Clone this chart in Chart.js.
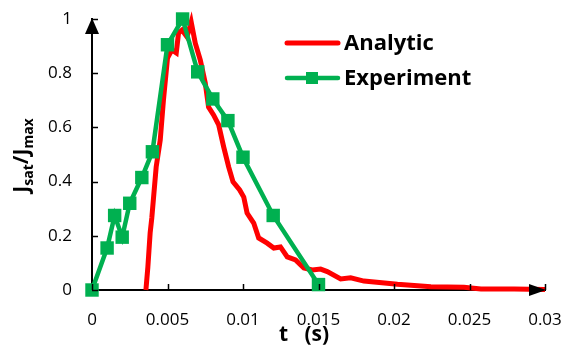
<!DOCTYPE html>
<html>
<head>
<meta charset="utf-8">
<script src="https://cdn.jsdelivr.net/npm/chart.js@4/dist/chart.umd.min.js"></script>
<style>
  body { margin: 0; background: #fff; }
  canvas { display: block; }
</style>
</head>
<body>
<canvas id="chart" width="564" height="347"></canvas>
<script>
// -------------------------------
// Data
// -------------------------------
const analyticT = [0.00357, 0.0037, 0.00385, 0.00396, 0.00425, 0.00452, 0.00473, 0.0050, 0.00529, 0.00558,
  0.00573, 0.00596, 0.00629, 0.00657, 0.00684, 0.00717, 0.0075, 0.00772, 0.00805, 0.00839,
  0.00872, 0.00905, 0.00934, 0.00978, 0.01005, 0.01027, 0.01071, 0.01104, 0.0116, 0.01204,
  0.01248, 0.01293, 0.01348, 0.01403, 0.01459, 0.01514, 0.01558, 0.01647, 0.01713, 0.01801,
  0.02023, 0.02244, 0.02463, 0.02576, 0.02796, 0.0300];
const analyticJ = [0, 0.085, 0.21, 0.266, 0.454, 0.554, 0.70, 0.856, 0.886, 0.875,
  0.948, 0.959, 0.934, 0.989, 0.911, 0.849, 0.764, 0.675, 0.646, 0.609,
  0.528, 0.454, 0.399, 0.369, 0.343, 0.284, 0.247, 0.192, 0.173, 0.155,
  0.159, 0.122, 0.111, 0.081, 0.074, 0.077, 0.068, 0.041, 0.045, 0.033,
  0.021, 0.012, 0.010, 0.004, 0.004, 0.002];

const experimentT = [0, 0.001, 0.0015, 0.002, 0.0025, 0.0033, 0.004, 0.005, 0.006, 0.007, 0.008, 0.009, 0.010, 0.012, 0.015];
const experimentJ = [0, 0.155, 0.275, 0.195, 0.32, 0.415, 0.51, 0.905, 1.0, 0.805, 0.705, 0.625, 0.49, 0.275, 0.02];

const seriesNames = ["Analytic", "Experiment"];
const seriesColors = ["#ff0000", "#00b050"];

const xTicks = [0, 0.005, 0.01, 0.015, 0.02, 0.025, 0.03];
const yTicks = [0, 0.2, 0.4, 0.6, 0.8, 1];

const FONT = "'Open Sans', 'Noto Sans', sans-serif";

// -------------------------------
// Axes: inward ticks, arrows, titles, legend
// -------------------------------
const decorations = {
  id: "decorations",
  afterDraw(chart) {
    const ctx = chart.ctx;
    const x = chart.scales.x;
    const y = chart.scales.y;
    const x0 = x.getPixelForValue(0);
    const y0 = y.getPixelForValue(0);
    ctx.save();
    ctx.strokeStyle = "#000";
    ctx.fillStyle = "#000";
    ctx.lineWidth = 1.5;

    // tick marks inside the plot
    yTicks.forEach((v) => {
      const py = Math.round(y.getPixelForValue(v)) + 0.5;
      ctx.beginPath();
      ctx.moveTo(x0, py);
      ctx.lineTo(x0 + 6, py);
      ctx.stroke();
    });
    xTicks.forEach((v) => {
      const px = Math.round(x.getPixelForValue(v)) + 0.5;
      ctx.beginPath();
      ctx.moveTo(px, y0);
      ctx.lineTo(px, y0 - 6);
      ctx.stroke();
    });

    // arrow heads
    const top = y.getPixelForValue(1);
    ctx.beginPath();
    ctx.moveTo(x0, top - 1);
    ctx.lineTo(x0 - 7, top + 15);
    ctx.lineTo(x0 + 7, top + 15);
    ctx.closePath();
    ctx.fill();
    const right = x.getPixelForValue(0.03);
    ctx.beginPath();
    ctx.moveTo(right + 1, y0);
    ctx.lineTo(right - 16, y0 - 6);
    ctx.lineTo(right - 16, y0 + 6);
    ctx.closePath();
    ctx.fill();

    // y title with subscripts
    ctx.save();
    ctx.translate(28, (chart.chartArea.top + chart.chartArea.bottom) / 2 + 1);
    ctx.rotate(-Math.PI / 2);
    ctx.textBaseline = "alphabetic";
    const big = "bold 21px " + FONT;
    const small = "bold 14px " + FONT;
    const parts = [["J", big, 0], ["sat", small, 5], ["/J", big, 0], ["max", small, 5]];
    let total = 0;
    parts.forEach((p) => { ctx.font = p[1]; total += ctx.measureText(p[0]).width; });
    let cx = -total / 2;
    parts.forEach((p) => {
      ctx.font = p[1];
      ctx.fillText(p[0], cx, p[2]);
      cx += ctx.measureText(p[0]).width;
    });
    ctx.restore();

    // x title
    ctx.font = "bold 21px " + FONT;
    ctx.textAlign = "center";
    ctx.textBaseline = "alphabetic";
    ctx.fillText("t   (s)", 304, 341);

    // legend
    ctx.textAlign = "left";
    ctx.textBaseline = "middle";
    ctx.lineCap = "round";
    const legendY = [43, 78];
    seriesNames.forEach((name, i) => {
      ctx.strokeStyle = seriesColors[i];
      ctx.lineWidth = i === 0 ? 5 : 4.5;
      ctx.beginPath();
      ctx.moveTo(287, legendY[i]);
      ctx.lineTo(338, legendY[i]);
      ctx.stroke();
      if (i === 1) {
        ctx.fillStyle = seriesColors[i];
        ctx.fillRect(306, legendY[i] - 6, 12, 12);
      }
      ctx.fillStyle = "#000";
      ctx.font = "bold 22px " + FONT;
      ctx.fillText(name, 344, legendY[i] + 1);
    });
    ctx.restore();
  },
};

// -------------------------------
// Chart
// -------------------------------
new Chart(document.getElementById("chart"), {
  type: "line",
  data: {
    datasets: [
      {
        label: seriesNames[0],
        data: analyticT.map((t, i) => ({ x: t, y: analyticJ[i] })),
        borderColor: seriesColors[0],
        borderWidth: 5,
        pointRadius: 0,
        tension: 0,
        order: 2,
      },
      {
        label: seriesNames[1],
        data: experimentT.map((t, i) => ({ x: t, y: experimentJ[i] })),
        borderColor: seriesColors[1],
        backgroundColor: seriesColors[1],
        borderWidth: 4.5,
        pointStyle: "rect",
        pointRadius: 9.5,
        pointBorderWidth: 0,
        pointBackgroundColor: seriesColors[1],
        tension: 0,
        order: 1,
      },
    ],
  },
  options: {
    responsive: false,
    devicePixelRatio: 1,
    animation: false,
    clip: false,
    layout: { padding: { left: 0, right: 19, top: 19, bottom: 0 } },
    plugins: { legend: { display: false }, tooltip: { enabled: false } },
    scales: {
      x: {
        type: "linear",
        min: 0,
        max: 0.03,
        afterBuildTicks: (s) => { s.ticks = xTicks.map((v) => ({ value: v })); },
        afterFit: (s) => { s.height = 57; s.paddingLeft = 0; s.paddingRight = 0; },
        grid: { display: false, drawTicks: false },
        border: { display: true, color: "#000", width: 2 },
        ticks: {
          padding: 20,
          color: "#000",
          font: { family: FONT, size: 17 },
          callback: (v) => String(+v.toFixed(3)),
        },
      },
      y: {
        type: "linear",
        min: 0,
        max: 1,
        afterBuildTicks: (s) => { s.ticks = yTicks.map((v) => ({ value: v })); },
        afterFit: (s) => { s.width = 92; s.paddingTop = 0; s.paddingBottom = 0; },
        grid: { display: false, drawTicks: false },
        border: { display: true, color: "#000", width: 2 },
        ticks: {
          padding: 20,
          color: "#000",
          font: { family: FONT, size: 17 },
          callback: (v) => String(+v.toFixed(1)),
        },
      },
    },
  },
  plugins: [decorations],
});
</script>
</body>
</html>
